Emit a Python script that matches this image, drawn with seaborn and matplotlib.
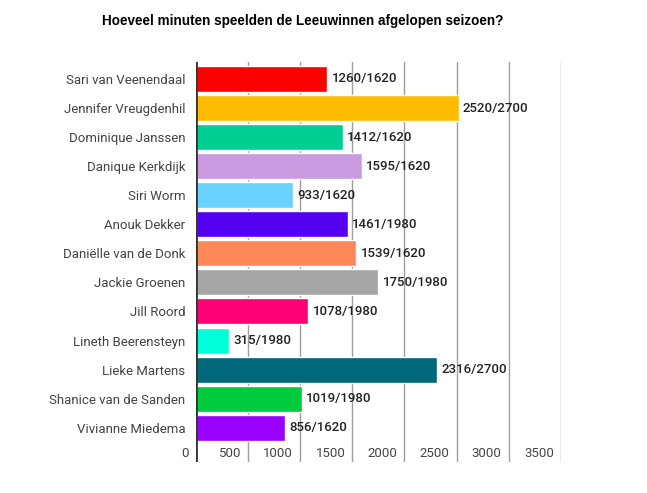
import matplotlib
matplotlib.use("Agg")
import matplotlib.pyplot as plt
import seaborn as sns
import pandas as pd

players = ["Sari van Veenendaal", "Jennifer Vreugdenhil", "Dominique Janssen",
           "Danique Kerkdijk", "Siri Worm", "Anouk Dekker", "Daniëlle van de Donk",
           "Jackie Groenen", "Jill Roord", "Lineth Beerensteyn", "Lieke Martens",
           "Shanice van de Sanden", "Vivianne Miedema"]
minutes = [1260, 2520, 1412, 1595, 933, 1461, 1539, 1750, 1078, 315, 2316, 1019, 856]
available = [1620, 2700, 1620, 1620, 1620, 1980, 1620, 1980, 1980, 1980, 2700, 1980, 1620]
colors = ["#FF0000", "#FFBC00", "#00CF93", "#CA9BE0", "#69D2FF", "#5500F0",
          "#FF8858", "#A6A6A6", "#FF0075", "#00FFD8", "#00687A", "#00CB3C", "#9A00FF"]
xticks = [0, 500, 1000, 1500, 2000, 2500, 3000, 3500]

df = pd.DataFrame({"player": players, "minutes": minutes})

sns.set_style("white")
plt.rcParams["font.family"] = ["Roboto", "DejaVu Sans"]

fig = plt.figure(figsize=(6.47, 4.93), dpi=100)
ax = fig.add_axes([196 / 647, 1 - 462 / 493, (560.7 - 196) / 647, 400 / 493])

sns.barplot(data=df, x="minutes", y="player", hue="player", palette=colors,
            orient="h", width=0.895, legend=False, ax=ax, saturation=1)

ax.set_xlim(0, 3500)
ax.set_ylim(13.18, -0.585)
for s in ax.spines.values():
    s.set_visible(False)
ax.axvline(0, color="#333333", lw=2, zorder=5)
for t in xticks[1:]:
    ax.axvline(t, color="#9E9E9E", lw=1, zorder=0)

ax.set_xticks([])
ax.set_xlabel("")
ax.set_ylabel("")
ax.tick_params(axis="y", length=0, pad=7.5, labelsize=9.5, labelcolor="#444444")

for t in xticks:
    ax.annotate(str(t), xy=(t, 0), xycoords=("data", "axes fraction"),
                xytext=(-5, 6.3), textcoords="offset points", ha="right", va="center",
                fontsize=9.5, color="#444444")

for i, (m, a) in enumerate(zip(minutes, available)):
    ax.annotate(f"{m}/{a}", xy=(m, i), xytext=(3, 0), textcoords="offset points",
                ha="left", va="center", fontsize=9.5, fontweight="medium", color="#222222")

fig.text(102 / 647, 1 - 21 / 493, "Hoeveel minuten speelden de Leeuwinnen afgelopen seizoen?",
         ha="left", va="center", fontsize=9.75, fontweight="bold",
         family=["Liberation Sans", "DejaVu Sans"], color="#000000")

fig.savefig("out.png", dpi=100)
